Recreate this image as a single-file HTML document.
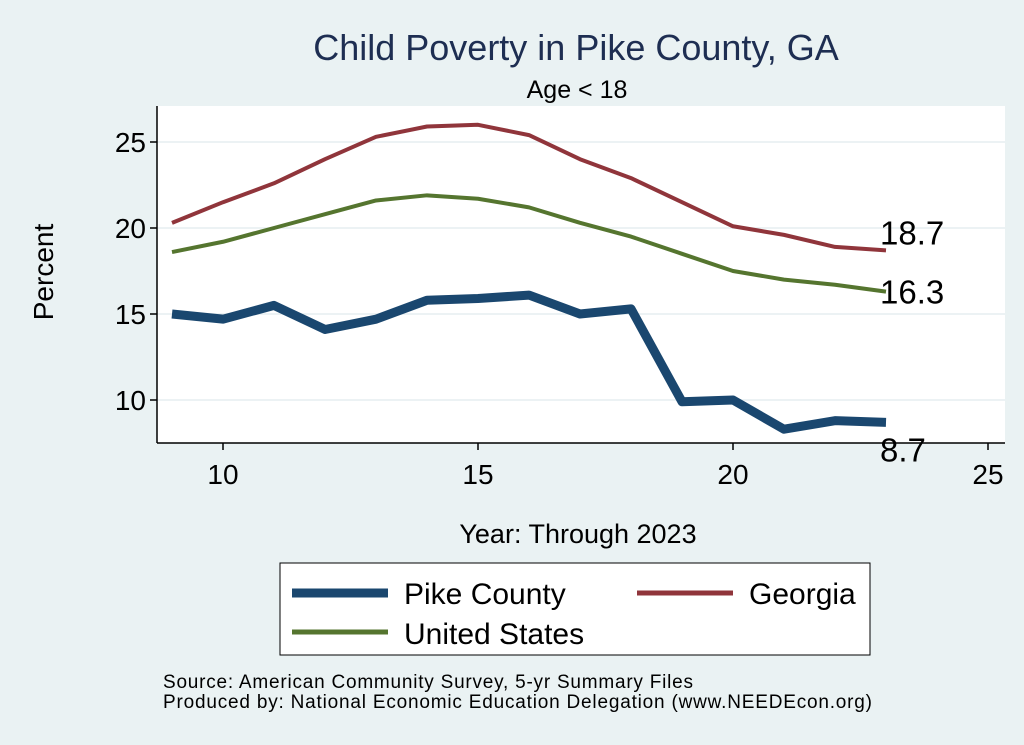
<!DOCTYPE html>
<html><head><meta charset="utf-8"><style>
body{margin:0;background:#eaf2f3;}
svg{display:block;font-family:"Liberation Sans",Arial,sans-serif;}
</style></head><body>
<svg id="chart" width="1024" height="745">
<rect x="0" y="0" width="1024" height="745" fill="#eaf2f3"/>
<text x="576" y="60" font-size="36" fill="#1e2e52" text-anchor="middle">Child Poverty in Pike County, GA</text>
<rect x="157" y="106" width="848" height="337" fill="#fff"/>
<text x="577" y="98" font-size="25" fill="#000" text-anchor="middle">Age &lt; 18</text>
<g id="grid"></g>
<g id="series"></g>
<line x1="157" y1="106" x2="157" y2="443" stroke="#000" stroke-width="1.5"/>
<line x1="157" y1="443" x2="1005" y2="443" stroke="#000" stroke-width="1.5"/>
<g id="ticks"></g>
<text x="53" y="272" font-size="28" text-anchor="middle" transform="rotate(-90 53 272)">Percent</text>
<text x="578" y="543" font-size="27" text-anchor="middle">Year: Through 2023</text>
<g>
<rect x="280" y="563" width="590" height="92" fill="#fff" stroke="#000" stroke-width="1"/>
<line x1="292" y1="593" x2="388" y2="593" stroke="#1a476f" stroke-width="9"/>
<text x="404" y="604" font-size="30">Pike County</text>
<line x1="637" y1="593" x2="733" y2="593" stroke="#90353b" stroke-width="5"/>
<text x="749" y="604" font-size="30">Georgia</text>
<line x1="292" y1="632" x2="388" y2="632" stroke="#55752f" stroke-width="5"/>
<text x="404" y="644" font-size="30">United States</text>
</g>
<text x="163" y="688" font-size="19" textLength="530">Source: American Community Survey, 5-yr Summary Files</text>
<text x="163" y="708" font-size="19" textLength="709">Produced by: National Economic Education Delegation (www.NEEDEcon.org)</text>
</svg>
<script>
const years=[9,10,11,12,13,14,15,16,17,18,19,20,21,22,23];
const pike=[15.0,14.7,15.5,14.1,14.7,15.8,15.9,16.1,15.0,15.3,9.9,10.0,8.3,8.8,8.7];
const georgia=[20.3,21.5,22.6,24.0,25.3,25.9,26.0,25.4,24.0,22.9,21.5,20.1,19.6,18.9,18.7];
const us=[18.6,19.2,20.0,20.8,21.6,21.9,21.7,21.2,20.3,19.5,18.5,17.5,17.0,16.7,16.3];
const xTicks=[10,15,20,25];
const yTicks=[10,15,20,25];
const NS="http://www.w3.org/2000/svg";
const xs=v=>223+(v-10)*51;
const ys=v=>400-(v-10)*17.2;
function mk(tag,attrs,parent){const e=document.createElementNS(NS,tag);for(const k in attrs)e.setAttribute(k,attrs[k]);parent.appendChild(e);return e;}
const grid=document.getElementById('grid'),ticks=document.getElementById('ticks'),ser=document.getElementById('series');
yTicks.forEach(t=>{
 const g=mk('line',{x1:157,x2:1005,y1:ys(t),y2:ys(t),stroke:'#e6eef0','stroke-width':1.5},grid);
 
 
 const tk=mk('line',{x1:150,x2:157,y1:ys(t),y2:ys(t),stroke:'#000','stroke-width':1.5},ticks);
 
 
 const tx=mk('text',{x:146,y:ys(t)+10,'font-size':28,'text-anchor':'end'},ticks);
 tx.textContent=t;
 
 
});
xTicks.forEach(t=>{
 const tk=mk('line',{x1:xs(t),x2:xs(t),y1:443,y2:450,stroke:'#000','stroke-width':1.5},ticks);
 
 
 const tx=mk('text',{x:xs(t),y:484,'font-size':28,'text-anchor':'middle'},ticks);
 tx.textContent=t;
 
 
});
function line(data,color,w,name){
 const p=mk('polyline',{points:data.map((v,i)=>xs(years[i])+','+ys(v)).join(' '),fill:'none',stroke:color,'stroke-width':w,'stroke-linejoin':'round'},ser);
 
 
}
line(us,'#55752f',4,'line-united-states');
line(georgia,'#90353b',4,'line-georgia');
line(pike,'#1a476f',9,'line-pike-county');
function lab(v,dy,name){
 const n=years.length-1;
 const t=mk('text',{x:xs(years[n])-6,y:ys(v)+dy,'font-size':33},ser);
 t.textContent=v.toFixed(1);
 
 
}
lab(georgia[georgia.length-1],-6,'end-label-georgia');
lab(us[us.length-1],12,'end-label-us');
lab(pike[pike.length-1],39,'end-label-pike');
</script>
</body></html>
